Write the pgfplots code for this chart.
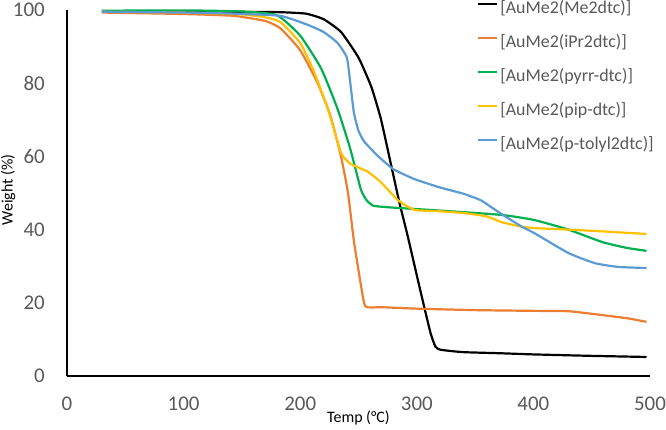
\documentclass[border=0pt]{standalone}
\usepackage{pgfplots}
\pgfplotsset{compat=1.18}
\usepackage{fontspec}
\setmainfont{Carlito}
\definecolor{cblack}{HTML}{000000}
\definecolor{corange}{HTML}{ED7D31}
\definecolor{cgreen}{HTML}{00B050}
\definecolor{cyellow}{HTML}{FFC000}
\definecolor{cblue}{HTML}{5B9BD5}
\definecolor{ticktext}{HTML}{595959}

\begin{document}
\begin{tikzpicture}
\useasboundingbox (0bp,0bp) rectangle (666bp,430bp);
\begin{axis}[
  at={(67bp,54bp)}, anchor=south west,
  width=583bp, height=366bp, scale only axis,
  xmin=0, xmax=500, ymin=0, ymax=100,
  axis lines=left,
  axis line style={line width=1.8bp, -},
  xtick={0,100,...,500}, ytick={0,20,...,100},
  major tick length=0pt,
  /pgf/number format/assume math mode=true,
  tick label style={font=\fontsize{21}{25}\selectfont, text=ticktext, inner sep=0pt},
  yticklabel style={anchor=east, xshift=-22bp},
  xticklabel style={anchor=north, yshift=-21bp},
  xlabel={Temp (°C)}, ylabel={Weight (\%)},
  label style={font=\fontsize{16}{19}\selectfont},
  xlabel style={at={(rel axis cs:0.5,-0.115)}, anchor=center},
  ylabel style={at={(rel axis cs:-0.101,0.508)}, anchor=center},
  legend style={at={(rel axis cs:0.703,1.027)}, anchor=north west,
    draw=none, fill=none, inner sep=0pt, row sep=17bp, column sep=2bp,
    font=\fontsize{18}{22}\selectfont, text=ticktext,
    nodes={inner sep=0pt, text height=13bp, text depth=4bp}},
  legend cell align=left,
  legend image code/.code={\draw[#1, line width=2.2bp] (0bp,4.5bp) -- (19bp,4.5bp);},
  every axis plot/.append style={line width=2.2bp, smooth, tension=0.3, line join=round},
]
% [AuMe2(Me2dtc)]
\addplot[cblack] coordinates {
 (30,99.7) (100,99.6) (150,99.5) (183,99.4) (205,99) (220,97.5) (235,94)
 (250,87) (261,79) (269,70.5) (276,60.5) (285,47.5) (292,38.5) (300,27.5)
 (307,18) (312,11.5) (316,8) (320,7.2) (330,6.8) (341,6.5) (373,6.2)
 (400,5.9) (450,5.5) (497,5.2)};
\addlegendentry{\lbrack AuMe2(Me2dtc)\rbrack}
% [AuMe2(iPr2dtc)]
\addplot[corange] coordinates {
 (30,99.3) (100,98.9) (143,98.4) (170,97) (183,95) (200,89) (215,80)
 (226,71) (235,60) (241,50) (246,37) (252,25) (256,19) (270,18.8)
 (300,18.4) (350,18) (400,17.8) (430,17.7) (455,16.8) (480,15.8) (497,14.8)};
\addlegendentry{\lbrack AuMe2(iPr2dtc)\rbrack}
% [AuMe2(pyrr-dtc)]
\addplot[cgreen] coordinates {
 (30,99.8) (100,99.9) (150,99.6) (180,98.6) (200,93) (218,84) (232,73)
 (243,62) (252,51) (257,48) (263,46.5) (280,46) (320,45.2) (373,44)
 (401,42.6) (430,40) (459,36.6) (480,35) (497,34.2)};
\addlegendentry{\lbrack AuMe2(pyrr-dtc)\rbrack}
% [AuMe2(pip-dtc)]
\addplot[cyellow] coordinates {
 (30,99.5) (100,99.3) (150,98.8) (170,98) (183,96.7) (200,91) (212,83)
 (224,72.7) (235,61) (243,58) (258,55.8) (269,53) (284,48) (298,45.4)
 (320,45) (341,44.5) (360,43.6) (373,42) (390,40.8) (401,40.4) (430,40)
 (460,39.5) (497,38.8)};
\addlegendentry{\lbrack AuMe2(pip-dtc)\rbrack}
% [AuMe2(p-tolyl2dtc)]
\addplot[cblue] coordinates {
 (30,99.5) (100,99.3) (143,99) (183,98.4) (206,96) (220,94) (232,91)
 (240,87) (243,80) (246,72) (250,67) (255,64) (267,60) (280,56.5) (298,53.8)
 (320,51.5) (340,49.8) (355,48) (370,44.8) (390,40.8) (401,39) (430,33.6)
 (453,30.8) (473,29.8) (497,29.5)};
\addlegendentry{\lbrack AuMe2(p-tolyl2dtc)\rbrack}
\end{axis}
\end{tikzpicture}
\end{document}
